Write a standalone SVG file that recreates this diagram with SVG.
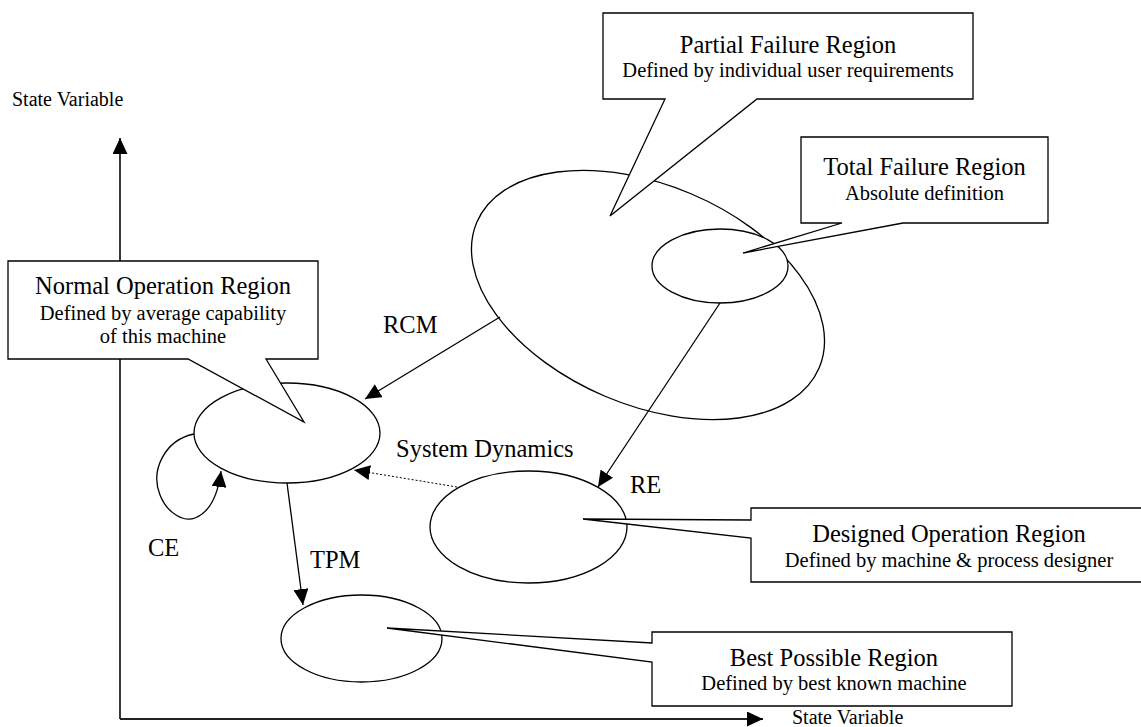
<svg xmlns="http://www.w3.org/2000/svg" width="1141" height="727" viewBox="0 0 1141 727">
<defs>
<marker id="ah" markerUnits="userSpaceOnUse" markerWidth="16" markerHeight="15" refX="16" refY="7.5" orient="auto">
<path d="M0,0 L16,7.5 L0,15 Z" fill="#000"/>
</marker>
</defs>
<style>
.shape{fill:#fff;stroke:#000;stroke-width:1.3}
.ln{fill:none;stroke:#000;stroke-width:1.3}
.axis{fill:none;stroke:#222;stroke-width:1.8}
.dot{fill:none;stroke:#000;stroke-width:1;stroke-dasharray:2,2}
text{font-family:"Liberation Serif","Times New Roman",serif;fill:#000}
.t{font-size:24.5px;text-anchor:middle}
.s{font-size:20.5px;text-anchor:middle}
.lbl{font-size:24.5px}
.ax{font-size:20px}
</style>
<rect width="1141" height="727" fill="#fff"/>
<g id="axes">
<path class="axis" d="M120,719 V138" marker-end="url(#ah)"/>
<path class="axis" d="M120,719 H763" marker-end="url(#ah)"/>
<text class="ax" x="12" y="106">State Variable</text>
<text class="ax" x="792" y="724">State Variable</text>
</g>
<g id="partial-region">
<ellipse class="shape" cx="648" cy="295" rx="186" ry="110" transform="rotate(23 648 295)"/>
</g>
<g id="total-region">
<ellipse class="shape" cx="720" cy="266" rx="68" ry="37"/>
</g>
<g id="normal-region">
<ellipse class="shape" cx="287" cy="433" rx="93" ry="50"/>
</g>
<g id="designed-region">
<ellipse class="shape" cx="528.5" cy="527" rx="98.5" ry="56"/>
</g>
<g id="best-region">
<ellipse class="shape" cx="361.5" cy="638.5" rx="80.5" ry="43.5"/>
</g>
<g id="connectors">
<path class="ln" d="M500,317 L365,399" marker-end="url(#ah)"/>
<path class="ln" d="M720,303 L598,487" marker-end="url(#ah)"/>
<path class="ln" d="M287,483 L303,605" marker-end="url(#ah)"/>
<path class="dot" d="M457,487 L354,470" marker-end="url(#ah)"/>
<path class="ln" d="M194,434 C165,440 150,470 160,495 C168,515 185,522 195,518 C210,512 218,495 221,471" marker-end="url(#ah)"/>
<text class="lbl" x="383" y="333">RCM</text>
<text class="lbl" x="630" y="493">RE</text>
<text class="lbl" x="310" y="568">TPM</text>
<text class="lbl" x="148" y="556">CE</text>
<text class="lbl" x="396" y="457">System Dynamics</text>
</g>
<g id="partial-callout">
<path class="shape" d="M603,13 H973 V99 H757 L610,216 L665,99 H603 Z"/>
<text class="t" x="788" y="53">Partial Failure Region</text>
<text class="s" x="788" y="77">Defined by individual user requirements</text>
</g>
<g id="total-callout">
<path class="shape" d="M801,137 H1048 V223 H903 L743,253 L842,223 H801 Z"/>
<text class="t" x="924.5" y="175">Total Failure Region</text>
<text class="s" x="924.5" y="200">Absolute definition</text>
</g>
<g id="normal-callout">
<path class="shape" d="M8,261 H318 V359 H266 L304,422 L188,359 H8 Z"/>
<text class="t" x="163" y="294">Normal Operation Region</text>
<text class="s" x="163" y="320">Defined by average capability</text>
<text class="s" x="163" y="343">of this machine</text>
</g>
<g id="designed-callout">
<path class="shape" d="M751,508 H1150 V582 H751 V538 L583,519 L751,520 Z"/>
<text class="t" x="949" y="542">Designed Operation Region</text>
<text class="s" x="949" y="567">Defined by machine &amp; process designer</text>
</g>
<g id="best-callout">
<path class="shape" d="M652,632 H1012 V706 H652 V662 L387,628 L652,643 Z"/>
<text class="t" x="834" y="666">Best Possible Region</text>
<text class="s" x="834" y="690">Defined by best known machine</text>
</g>
</svg>
